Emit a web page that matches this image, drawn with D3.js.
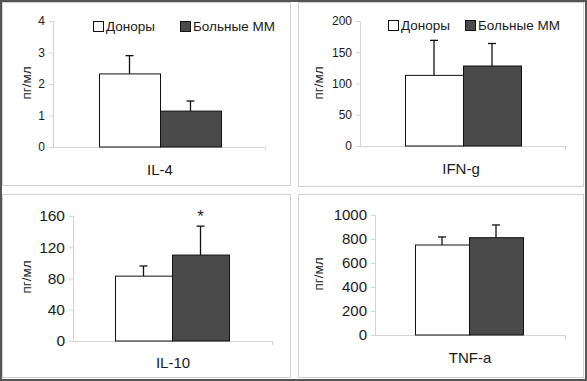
<!DOCTYPE html>
<html>
<head>
<meta charset="utf-8">
<script src="https://cdn.jsdelivr.net/npm/d3@7"></script>
<style>
  body { margin: 0; background: #fff; }
  svg text { font-family: "Liberation Sans", Arial, sans-serif; fill: #1a1a1a; }
</style>
</head>
<body>
<div id="my_dataviz"></div>
<script>
// cytokine levels, donors vs MM patients
const categories = ["IL-4", "IFN-g", "IL-10", "TNF-a"];
const groups = ["Доноры", "Больные ММ"];
const donors = [2.32, 113, 83, 750];
const donorsErr = [0.58, 56, 13, 67];
const patients = [1.14, 128, 110, 811];
const patientsErr = [0.32, 36, 37, 106];
const yMax = [4, 200, 160, 1000];
const yStep = [1, 50, 40, 200];
const starred = [false, false, true, false];
const yLabel = "пг/мл";

/////////////////////////////////////////////////////////////////
//// layout of the 4 panels (pixels)

const W = 587, H = 381;
const panelBox = [[2, 2, 288, 183], [298, 2, 285, 184], [2, 194, 288, 183], [298, 194, 285, 183]];
const axisLeft = [53, 360, 73, 375];
const axisEnd = [265, 565, 272, 565];
const yTop = [21, 21, 216, 215];
const yBot = [147, 146, 341, 335];
const barLeft = [99, 405, 115, 415];
const barRight = [221, 521, 229, 523];
const tickFont = [12, 12, 15.5, 15];
const catPos = [[160, 175], [461, 174], [173, 368], [470, 363]];
const ylabPos = [[26, 83], [318, 83], [26, 277], [318, 274]];

const svg = d3.select("#my_dataviz").append("svg")
    .attr("width", W).attr("height", H);

// outer frame
svg.append("rect")
    .attr("x", 1).attr("y", 1).attr("width", W - 2).attr("height", H - 2)
    .attr("fill", "white").attr("stroke", "#555").attr("stroke-width", 2);

function drawPanel(i) {
    let b = panelBox[i];
    svg.append("rect")
        .attr("x", b[0] + 0.5).attr("y", b[1] + 0.5).attr("width", b[2]).attr("height", b[3])
        .attr("fill", "white").attr("stroke", "#cfcfcf");

    let y = d3.scaleLinear().domain([0, yMax[i]]).range([yBot[i], yTop[i]]);
    let x = d3.scaleBand().domain(groups).range([barLeft[i], barRight[i]]).padding(0);

    let g = svg.append("g");

    // y axis
    let yAxis = d3.axisLeft(y)
        .tickValues(d3.range(0, yMax[i] + yStep[i] / 2, yStep[i]))
        .tickFormat(function (d) { return String(d); })
        .tickSize(4).tickPadding(4);
    let ya = g.append("g")
        .attr("transform", "translate(" + axisLeft[i] + ",0)")
        .call(yAxis);
    ya.select(".domain").attr("stroke", "#d4d4d4");
    ya.selectAll(".tick line").attr("stroke", "#d4d4d4");
    ya.selectAll(".tick text")
        .style("font-size", tickFont[i] + "px")
        .attr("fill", "#1a1a1a");

    // x axis baseline
    g.append("line")
        .attr("x1", axisLeft[i]).attr("x2", axisEnd[i])
        .attr("y1", y(0) + 0.5).attr("y2", y(0) + 0.5)
        .attr("stroke", "#d4d4d4");
    g.append("line")
        .attr("x1", axisEnd[i] + 0.5).attr("x2", axisEnd[i] + 0.5)
        .attr("y1", y(0)).attr("y2", y(0) + 4)
        .attr("stroke", "#d4d4d4");

    let rows = [
        {grp: groups[0], v: donors[i], e: donorsErr[i], fill: "#ffffff"},
        {grp: groups[1], v: patients[i], e: patientsErr[i], fill: "#4a4a4a"}
    ];

    // error bars (only upwards)
    rows.forEach(function (d) {
        let cx = x(d.grp) + x.bandwidth() / 2;
        g.append("line")
            .attr("x1", cx).attr("x2", cx)
            .attr("y1", y(d.v)).attr("y2", y(d.v + d.e))
            .attr("stroke", "#111").attr("stroke-width", 1.3);
        g.append("line")
            .attr("x1", cx - 4).attr("x2", cx + 4)
            .attr("y1", y(d.v + d.e)).attr("y2", y(d.v + d.e))
            .attr("stroke", "#111").attr("stroke-width", 1.3);
    });

    g.selectAll("rect.bar").data(rows).enter().append("rect")
        .attr("class", "bar")
        .attr("x", function (d) { return x(d.grp) + 0.5; })
        .attr("width", x.bandwidth())
        .attr("y", function (d) { return y(d.v); })
        .attr("height", function (d) { return y(0) - y(d.v); })
        .attr("fill", function (d) { return d.fill; })
        .attr("stroke", "#111").attr("stroke-width", 1);

    if (starred[i]) {
        let top = y(patients[i] + patientsErr[i]);
        g.append("text")
            .attr("x", x(groups[1]) + x.bandwidth() / 2)
            .attr("y", top - 4)
            .attr("text-anchor", "middle")
            .style("font-size", "17px")
            .text("*");
    }

    // category label
    g.append("text")
        .attr("x", catPos[i][0]).attr("y", catPos[i][1])
        .attr("text-anchor", "middle")
        .style("font-size", "15px")
        .text(categories[i]);

    // y label
    g.append("text")
        .attr("transform", "translate(" + ylabPos[i][0] + "," + ylabPos[i][1] + ") rotate(-90)")
        .attr("text-anchor", "middle")
        .attr("dominant-baseline", "central")
        .style("font-size", "13.5px")
        .text(yLabel);
}

function drawLegend(lx, ly, lx2) {
    let sw = [[lx, "#ffffff", groups[0]], [lx2, "#4a4a4a", groups[1]]];
    sw.forEach(function (s) {
        svg.append("rect")
            .attr("x", s[0] + 0.5).attr("y", ly + 0.5).attr("width", 10).attr("height", 10)
            .attr("fill", s[1]).attr("stroke", "#111");
        svg.append("text")
            .attr("x", s[0] + 13).attr("y", ly + 10)
            .style("font-size", "13.5px")
            .text(s[2]);
    });
}

for (let i = 0; i < categories.length; i++) drawPanel(i);
drawLegend(93, 21, 180);
drawLegend(388, 20, 465);
</script>
</body>
</html>
